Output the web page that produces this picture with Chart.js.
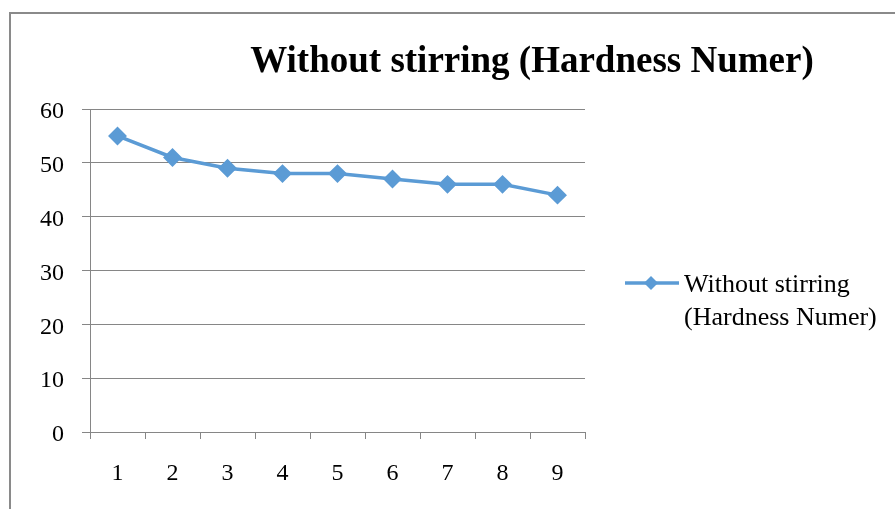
<!DOCTYPE html>
<html>
<head>
<meta charset="utf-8">
<script src="https://cdn.jsdelivr.net/npm/chart.js@4"></script>
<style>
html,body{margin:0;padding:0;background:#fff;overflow:hidden;}
#wrap{position:relative;width:895px;height:509px;}
#frame{position:absolute;left:9px;top:12px;width:1000px;height:1000px;border:2px solid #8a8a8a;box-sizing:border-box;}
canvas{position:absolute;left:0;top:0;}
</style>
</head>
<body>
<div id="wrap">
<div id="frame"></div>
<canvas id="c" width="895" height="509"></canvas>
</div>
<script>
const categories = ["1","2","3","4","5","6","7","8","9"];
const hardness = [55, 51, 49, 48, 48, 47, 46, 46, 44];
const seriesName = "Without stirring (Hardness Numer)";
const legendLines = ["Without stirring", "(Hardness Numer)"];
const titleText = "Without stirring (Hardness Numer)";

const blue = "#5B9BD5";
const gridColor = "#868686";
const serif = "'Liberation Serif','Times New Roman',serif";

const overlay = {
  id: 'overlay',
  afterDraw(chart) {
    const ctx = chart.ctx;
    ctx.save();
    // title
    ctx.fillStyle = "#000";
    ctx.font = "bold 37px " + serif;
    ctx.textAlign = "center";
    ctx.textBaseline = "alphabetic";
    ctx.fillText(titleText, 532, 72);
    // legend
    ctx.strokeStyle = blue;
    ctx.lineWidth = 3.5;
    ctx.beginPath();
    ctx.moveTo(625, 283);
    ctx.lineTo(679, 283);
    ctx.stroke();
    ctx.fillStyle = blue;
    ctx.beginPath();
    const r = 7;
    ctx.moveTo(651, 283 - r);
    ctx.lineTo(651 + r, 283);
    ctx.lineTo(651, 283 + r);
    ctx.lineTo(651 - r, 283);
    ctx.closePath();
    ctx.fill();
    ctx.fillStyle = "#000";
    ctx.font = "26px " + serif;
    ctx.textAlign = "left";
    ctx.textBaseline = "middle";
    ctx.fillText(legendLines[0], 684, 285);
    ctx.fillText(legendLines[1], 684, 318);
    ctx.restore();
  }
};

new Chart(document.getElementById('c'), {
  type: 'line',
  data: {
    labels: categories,
    datasets: [{
      label: seriesName,
      data: hardness,
      borderColor: blue,
      backgroundColor: blue,
      borderWidth: 3.5,
      pointStyle: 'rectRot',
      pointRadius: 7,
      pointHoverRadius: 7,
      tension: 0
    }]
  },
  options: {
    responsive: false,
    animation: false,
    devicePixelRatio: 1,
    layout: { padding: { left: 0, right: 310, top: 109, bottom: 0 } },
    plugins: { legend: { display: false }, title: { display: false }, tooltip: { enabled: false } },
    scales: {
      x: {
        type: 'category',
        offset: true,
        grid: { offset: true, drawOnChartArea: false, drawTicks: true, tickLength: 7, color: gridColor, lineWidth: 1 },
        border: { display: true, color: gridColor, width: 1 },
        ticks: { color: "#000", font: { family: serif, size: 24 }, padding: 20, maxRotation: 0 },
        afterFit(scale) { scale.height = 77; }
      },
      y: {
        min: 0, max: 60,
        ticks: { stepSize: 10, color: "#000", font: { family: serif, size: 24 }, padding: 18, labelOffset: 3 },
        grid: { color: gridColor, lineWidth: 1, drawTicks: true, tickLength: 8 },
        border: { display: true, color: gridColor, width: 1 },
        afterFit(scale) { scale.width = 90; }
      }
    }
  },
  plugins: [overlay]
});
</script>
</body>
</html>
